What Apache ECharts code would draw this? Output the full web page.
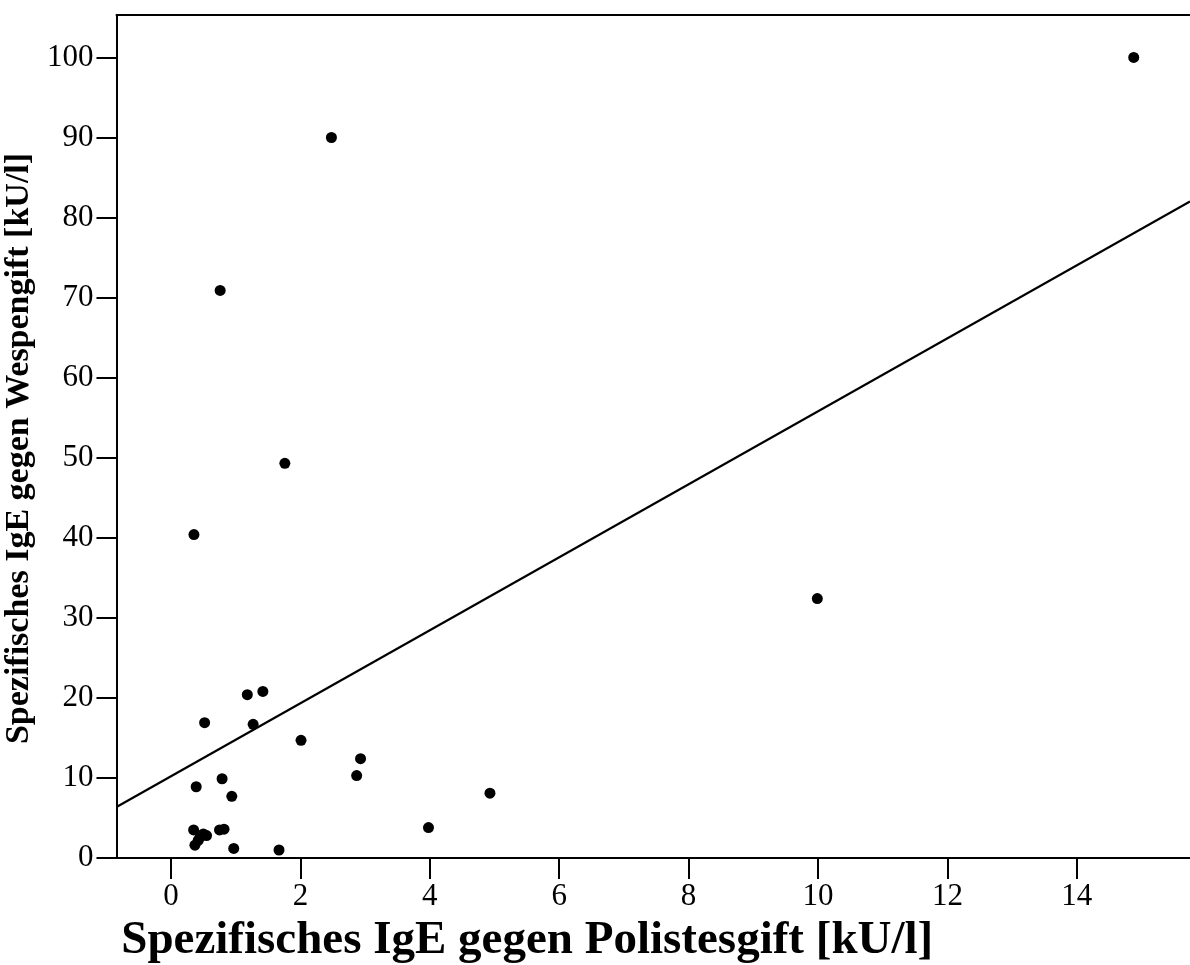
<!DOCTYPE html>
<html>
<head>
<meta charset="utf-8">
<script src="https://cdn.jsdelivr.net/npm/echarts@6/dist/echarts.min.js"></script>
<style>
html,body{margin:0;padding:0;background:#fff;}
#chart{width:1190px;height:965px;}
</style>
</head>
<body>
<div id="chart"></div>
<script>
// Data (x: Polistes venom IgE, y: wasp venom IgE, kU/l)
const polistesIgE = [14.88, 2.48, 0.76, 1.76, 0.355, 9.99, 1.18, 1.42, 1.27, 0.52, 2.01, 2.93, 2.87, 0.79, 0.39, 0.94, 4.93, 3.98,
                     0.35, 0.37, 0.42, 0.45, 0.50, 0.55, 0.75, 0.82, 0.97, 1.67];
const waspIgE     = [100.0, 90.0, 70.9, 49.3, 40.4, 32.4, 20.4, 20.8, 16.7, 16.9, 14.7, 12.4, 10.3, 9.9, 8.9, 7.7, 8.1, 3.8,
                     3.5, 1.6, 2.2, 2.6, 3.0, 2.8, 3.5, 3.6, 1.2, 1.0];
const fitIntercept = 10.2;
const fitSlope = 4.56;
const xTicks = [0, 2, 4, 6, 8, 10, 12, 14];
const yTicks = [0, 10, 20, 30, 40, 50, 60, 70, 80, 90, 100];
const xRange = [-0.842, 15.75];
const yRange = [0, 105.3];
const xTitle = 'Spezifisches IgE gegen Polistesgift [kU/l]';
const yTitle = 'Spezifisches IgE gegen Wespengift [kU/l]';

const points = polistesIgE.map((x, i) => [x, waspIgE[i]]);
const fitLine = xRange.map(x => [x, fitIntercept + fitSlope * x]);

const font = 'Liberation Serif';
const chart = echarts.init(document.getElementById('chart'), null, {renderer: 'canvas'});
chart.setOption({
  animation: false,
  backgroundColor: '#ffffff',
  grid: {left: 116.5, top: 15, right: 0, bottom: 107, containLabel: false, outerBoundsMode: 'none'},
  xAxis: [{
    type: 'value', min: xRange[0], max: xRange[1],
    splitLine: {show: false},
    axisLine: {show: true, onZero: false, lineStyle: {color: '#000', width: 2}},
    axisTick: {show: true, inside: false, length: 21, customValues: xTicks, lineStyle: {color: '#000', width: 2}},
    axisLabel: {customValues: xTicks, color: '#000', fontFamily: font, fontSize: 31, margin: 23},
    name: xTitle, nameLocation: 'middle', nameGap: 58,
    nameTextStyle: {color: '#000', fontFamily: font, fontSize: 47, fontWeight: 'bold', padding: [0, 252, 0, 0]}
  }, {
    type: 'value', position: 'top', min: xRange[0], max: xRange[1],
    splitLine: {show: false},
    axisLine: {show: true, onZero: false, lineStyle: {color: '#000', width: 2}},
    axisTick: {show: false}, axisLabel: {show: false}
  }],
  yAxis: {
    type: 'value', min: yRange[0], max: yRange[1],
    splitLine: {show: false},
    axisLine: {show: true, onZero: false, lineStyle: {color: '#000', width: 2}},
    axisTick: {show: true, inside: false, length: 20, customValues: yTicks, lineStyle: {color: '#000', width: 2}},
    axisLabel: {customValues: yTicks, color: '#000', fontFamily: font, fontSize: 31, margin: 23},
    name: yTitle, nameLocation: 'middle', nameGap: 71,
    nameTextStyle: {color: '#000', fontFamily: font, fontSize: 34, fontWeight: 'bold', padding: [0, 24, 0, 0]}
  },
  series: [{
    type: 'line', data: fitLine, xAxisIndex: 0, showSymbol: false, symbol: 'none',
    lineStyle: {color: '#000', width: 2.2}, silent: true, z: 2
  }, {
    type: 'scatter', data: points, xAxisIndex: 0, symbol: 'circle', symbolSize: 11,
    itemStyle: {color: '#000', opacity: 1}, z: 3
  }]
});
</script>
</body>
</html>
